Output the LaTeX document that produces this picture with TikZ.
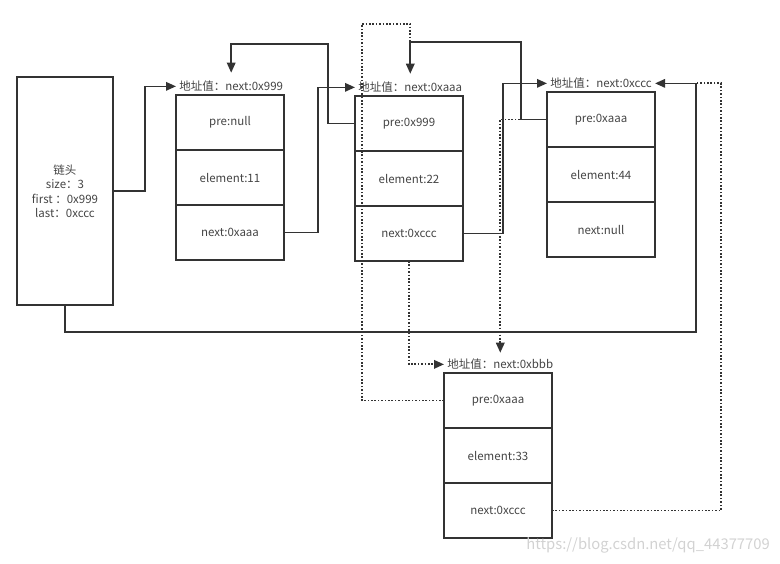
\documentclass[tikz,border=0pt]{standalone}
\usepackage{fontspec}
\setmainfont{Noto Sans CJK SC}
\usetikzlibrary{arrows.meta,positioning,calc}
\definecolor{wire}{HTML}{333333}
\definecolor{txt}{HTML}{444444}
\tikzset{
	list diagram/.style={
		x=1pt, y=-1pt,
		line width=1.7pt, color=wire, text=txt,
		font=\fontsize{11.5}{14.5}\selectfont,
		node distance=0pt,
		cell/.style={draw, minimum width=108pt, minimum height=55pt, inner sep=0pt, outer sep=0pt},
		addr/.style={inner sep=2.5pt},
		ar/.style={-{Triangle[length=10pt,width=8.5pt]}},
		dot/.style={line width=1.8pt, dash pattern=on 1.6pt off 1.8pt}
	}
}

\begin{document}
\begin{tikzpicture}[list diagram]
	\useasboundingbox (0,0) rectangle (780,564);
	\node[cell, minimum width=96pt, minimum height=228pt, anchor=north west, align=center] (head) at (17,77)
		{链头\\size：3\\first ：0x999\\last：0xccc};
	% node 0x999
	\node[cell, anchor=north west] (n1pre) at (176,95) {pre:null};
	\node[cell, below=of n1pre] (n1ele) {element:11};
	\node[cell, below=of n1ele] (n1next) {next:0xaaa};
	\node[addr, above right=of n1pre.north west] (lab1) {地址值：next:0x999};
	% node 0xaaa
	\node[cell, anchor=north west] (n2pre) at (355,96) {pre:0x999};
	\node[cell, below=of n2pre] (n2ele) {element:22};
	\node[cell, below=of n2ele] (n2next) {next:0xccc};
	\node[addr, above right=of n2pre.north west] (lab2) {地址值：next:0xaaa};
	% node 0xccc
	\node[cell, anchor=north west] (n3pre) at (547,92) {pre:0xaaa};
	\node[cell, below=of n3pre] (n3ele) {element:44};
	\node[cell, below=of n3ele] (n3next) {next:null};
	\node[addr, above right=of n3pre.north west] (lab3) {地址值：next:0xccc};
	% node 0xbbb
	\node[cell, anchor=north west] (n4pre) at (444,373) {pre:0xaaa};
	\node[cell, below=of n4pre] (n4ele) {element:33};
	\node[cell, below=of n4ele] (n4next) {next:0xccc};
	\node[addr, above right=of n4pre.north west] (lab4) {地址值：next:0xbbb};
	\node[text=gray!35, font=\fontsize{14.8}{15}\selectfont, anchor=east] (mark) at (774,545) {https://blog.csdn.net/qq\_44377709};

	\draw[ar] (head.east) -- ++(32,0) |- (lab1.west);
	\draw[ar] (n1next.east) -- ++(34,0) |- (lab2.west);
	\draw[ar] (n2next.east) -- ++(40,0) |- (lab3.west);
	\draw[ar, shorten >=5pt] (n2pre.west) -- ++(-27,0) |- ([yshift=34pt]lab1.north) -- (lab1.north);
	\draw[ar, shorten >=5pt] (n3pre.west) -- ++(-26,0) |- ([yshift=37pt]lab2.north) -- (lab2.north);
	\draw[ar] (head.south) -- ++(0,27) -| ([xshift=41pt]lab3.east) -- (lab3.east);
	% the inserted node
	\draw[dot] (n4pre.west) -- ++(-82,0) |- ([yshift=55pt]lab2.north) -- ([yshift=37pt]lab2.north);
	\draw[dot] (n4next.east) -| ([xshift=66pt]lab3.east) -- ([xshift=41pt]lab3.east);
	\draw[dot, ar] (n2next.south) |- (lab4.west);
	\draw[dot, ar, shorten >=3pt] (n3pre.west) -| (lab4.north);
\end{tikzpicture}
\end{document}
